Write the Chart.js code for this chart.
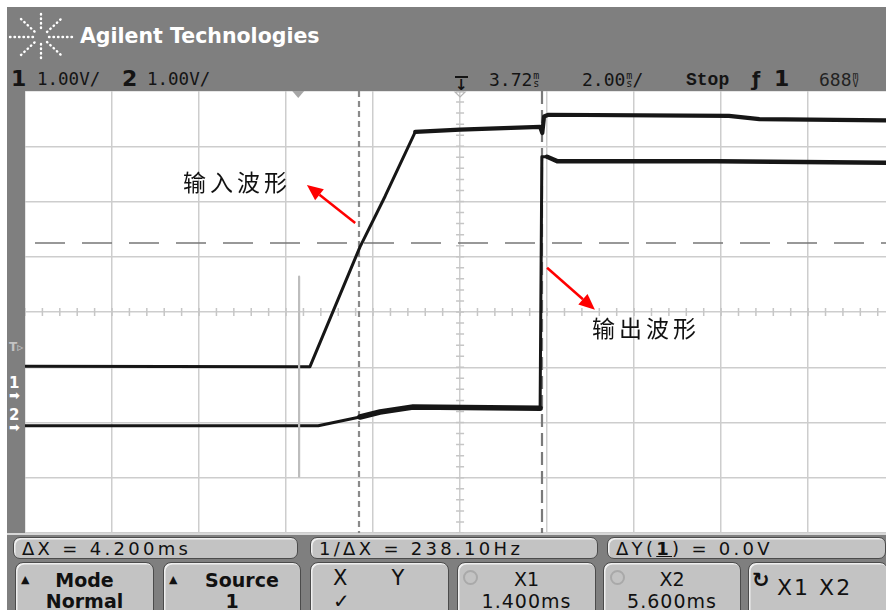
<!DOCTYPE html>
<html>
<head>
<meta charset="utf-8">
<title>Agilent scope capture</title>
<script src="https://cdn.jsdelivr.net/npm/chart.js@4.4.1/dist/chart.umd.min.js"></script>
<style>
  body { margin: 0; background: #fff; }
  #scope { position: relative; width: 886px; height: 610px; overflow: hidden; background: #fff; font-family: "DejaVu Sans", sans-serif; }
  .panel { position: absolute; background: #7f7f7f; }
  #plot { position: absolute; left: 25px; top: 91px; width: 861px; height: 442px; }
  .t { position: absolute; white-space: nowrap; line-height: 1; color: #141414; }
  .mono { font-family: "DejaVu Sans Mono", monospace; }
  .stk { display: inline-block; font-size: 10px; line-height: 8px; text-align: center; vertical-align: top; margin-left: 1px; margin-top: 1px; }
  .box { position: absolute; background: #c3c3c3; border: 1.5px solid #4b4b4b; border-radius: 7px;
         box-shadow: inset 1.5px 1.5px 0 #efefef; box-sizing: border-box; display: flex; align-items: center;
         font-size: 18px; letter-spacing: 3.3px; color: #111; padding-left: 8px; white-space: nowrap; }
  .key { position: absolute; top: 562px; height: 56px; background: #c3c3c3; border: 1.5px solid #4b4b4b; border-radius: 8px;
         box-shadow: inset 1.5px 1.5px 0 #efefef; box-sizing: border-box; color: #111; }
  .key .l { position: absolute; left: 0; right: 0; text-align: center; line-height: 1; white-space: nowrap; }
  .ring { position: absolute; width: 11px; height: 11px; border: 2px solid #a9a9a9; border-radius: 50%; top: 7px; }
</style>
</head>
<body>
<div id="scope">
  <div class="panel" style="left:7px;top:7px;width:879px;height:84px;"></div>
  <div class="panel" style="left:7px;top:91px;width:18px;height:442px;"></div>
  <div class="panel" style="left:7px;top:533px;width:879px;height:77px;border-top:2px solid #d8d8d8;box-sizing:border-box;"></div>

  <svg style="position:absolute;left:8px;top:12px;" width="68" height="50" viewBox="0 0 68 50">
    <g stroke="#fff" stroke-width="2.4" stroke-linecap="round" stroke-dasharray="0.5 4" fill="none">
      <line x1="2" y1="25" x2="25" y2="25"/><line x1="41" y1="25" x2="64" y2="25"/>
      <line x1="33" y1="2" x2="33" y2="18"/><line x1="33" y1="32" x2="33" y2="48"/>
      <line x1="13" y1="7" x2="27" y2="20"/><line x1="39" y1="30" x2="53" y2="43"/>
      <line x1="13" y1="43" x2="27" y2="30"/><line x1="39" y1="20" x2="53" y2="7"/>
    </g>
  </svg>
  <div class="t" style="left:80px;top:26px;font-size:20.5px;font-weight:bold;color:#fff;">Agilent Technologies</div>

  <div class="t" style="left:11px;top:68px;font-size:22px;font-weight:bold;">1</div>
  <div class="t mono" style="left:37px;top:71px;font-size:17.5px;">1.00V/</div>
  <div class="t" style="left:122px;top:68px;font-size:22px;font-weight:bold;">2</div>
  <div class="t mono" style="left:147px;top:71px;font-size:17.5px;">1.00V/</div>
  <div class="t" style="left:455px;top:76px;font-size:15px;font-weight:bold;border-top:2px solid #141414;">&#x2193;</div>
  <div class="t mono" style="left:489px;top:71px;font-size:18px;">3.72<span class="stk">m<br>s</span></div>
  <div class="t mono" style="left:582px;top:71px;font-size:18px;">2.00<span class="stk">m<br>s</span>/</div>
  <div class="t" style="left:686px;top:71px;font-size:18px;font-weight:bold;font-family:'Liberation Mono',monospace;">Stop</div>
  <div class="t" style="left:752px;top:70px;font-size:19px;font-weight:bold;">&#x0192;</div>
  <div class="t" style="left:774px;top:68px;font-size:22px;font-weight:bold;">1</div>
  <div class="t mono" style="left:819px;top:71px;font-size:18px;color:#222;">688<span class="stk">m<br>V</span></div>

  <div class="t" style="left:9px;top:341px;font-size:12px;font-weight:bold;color:#c4c4c4;">T&#x25B9;</div>
  <div class="t" style="left:9px;top:376px;font-size:15px;font-weight:bold;color:#fff;">1</div>
  <div class="t" style="left:9px;top:389px;font-size:13px;font-weight:bold;color:#fff;">&#x27A1;</div>
  <div class="t" style="left:9px;top:408px;font-size:15px;font-weight:bold;color:#fff;">2</div>
  <div class="t" style="left:9px;top:421px;font-size:13px;font-weight:bold;color:#fff;">&#x27A1;</div>

  <div id="plot"><canvas id="scopeChart" width="861" height="442"></canvas></div>

  <div class="box" style="left:13px;top:537px;width:285px;height:22px;">&#x0394;X = 4.200ms</div>
  <div class="box" style="left:310px;top:537px;width:288px;height:22px;">1/&#x0394;X = 238.10Hz</div>
  <div class="box" style="left:607px;top:537px;width:279px;height:22px;">&#x0394;Y(<b style="text-decoration:underline;">1</b>) = 0.0V</div>

  <div class="key" style="left:15px;width:139px;">
    <div class="l" style="top:8px;font-size:19px;font-weight:bold;"><span style="position:absolute;left:5px;top:3px;font-size:11px;">&#x25B2;</span>Mode</div>
    <div class="l" style="top:29px;font-size:19px;font-weight:bold;">Normal</div>
  </div>
  <div class="key" style="left:163px;width:138px;">
    <div class="l" style="top:8px;font-size:19px;font-weight:bold;padding-left:20px;box-sizing:border-box;"><span style="position:absolute;left:5px;top:3px;font-size:11px;">&#x25B2;</span>Source</div>
    <div class="l" style="top:29px;font-size:19px;font-weight:bold;">1</div>
  </div>
  <div class="key" style="left:310px;width:139px;">
    <div class="l" style="top:5px;font-size:21px;text-align:left;padding-left:22px;">X<span style="margin-left:44px;">Y</span></div>
    <div class="l" style="top:28px;font-size:20px;text-align:left;padding-left:22px;">&#x2713;</div>
  </div>
  <div class="key" style="left:457px;width:139px;">
    <div class="ring" style="left:5px;"></div>
    <div class="l" style="top:7px;font-size:19px;">X1</div>
    <div class="l" style="top:29px;font-size:19px;letter-spacing:1px;">1.400ms</div>
  </div>
  <div class="key" style="left:603px;width:138px;">
    <div class="ring" style="left:6px;"></div>
    <div class="l" style="top:7px;font-size:19px;">X2</div>
    <div class="l" style="top:29px;font-size:19px;letter-spacing:1px;">5.600ms</div>
  </div>
  <div class="key" style="left:748px;width:140px;">
    <div class="l" style="top:7px;left:3px;text-align:left;font-size:21px;font-weight:bold;">&#x21BB;</div>
    <div class="l" style="top:14px;left:28px;text-align:left;font-size:22px;letter-spacing:2px;">X1 X2</div>
  </div>
</div>

<script>
// Horizontal: 2 ms/div, 3.72 ms at screen centre. Vertical: 1 V/div on both channels.
const centerTime = 3.72;
const msPerDiv = 2.0;
const visibleMax = 13.51;              // right edge of the photo cuts the last division
const ch1Range = [-2.5, 5.5];          // ch1 ground marker sits 1.5 div below centre
const ch2Range = [-1.92, 6.08];        // ch2 ground marker sits 2.08 div below centre

// Channel 1: input waveform (V)
const ch1Time  = [-6.28, 0.27, 1.42, 2.00, 2.69, 3.72, 5.56, 5.61, 5.65, 5.75, 9.90, 10.60, 13.51];
const ch1Volts = [0.52, 0.51, 2.68, 3.60, 4.76, 4.80, 4.85, 4.74, 5.04, 5.07, 5.05, 4.99, 4.97];

// Channel 2: output waveform (V)
const ch2Time  = [-6.28, 0.46, 1.42, 1.88, 2.64, 5.56, 5.60, 5.72, 5.95, 9.63, 13.51];
const ch2Volts = [0.02, 0.02, 0.18, 0.27, 0.36, 0.34, 4.89, 4.89, 4.81, 4.81, 4.78];

// stray vertical glitch near the trigger point (ch1 volts)
const glitchTime  = [0.02, 0.02];
const glitchVolts = [2.14, -1.48];

// cursors as shown in the readout
const cursorX = [1.4, 5.6];
const cursorY = 2.75;

const notes = [
  { text: '输入波形', t: -2.65, v: 3.84, arrowFrom: [1.31, 3.11], arrowTo: [0.20, 3.80] },
  { text: '输出波形', t: 6.75, v: 1.21, arrowFrom: [5.72, 2.30], arrowTo: [6.82, 1.54] }
];

const pts = (ts, vs) => ts.map((t, i) => ({ x: t, y: vs[i] }));
const xMin = centerTime - 5 * msPerDiv;

const scopeOverlay = {
  id: 'scopeOverlay',
  beforeDatasetsDraw(chart) {
    const { ctx, chartArea: a, scales: { x, grid, y1 } } = chart;
    ctx.save();
    // minor ticks along the centre axes
    const cx = x.getPixelForValue(centerTime), cy = grid.getPixelForValue(0);
    ctx.strokeStyle = '#c6c6c6';
    ctx.lineWidth = 1.5;
    ctx.beginPath();
    for (let k = -25; k <= 25; k++) {
      const px = x.getPixelForValue(centerTime + k * msPerDiv / 5);
      ctx.moveTo(px, cy - 4); ctx.lineTo(px, cy + 4);
    }
    for (let k = -20; k <= 20; k++) {
      const py = grid.getPixelForValue(k / 5);
      ctx.moveTo(cx - 4, py); ctx.lineTo(cx + 4, py);
    }
    ctx.stroke();

    // Y cursor (both Y1 and Y2 at same level)
    const yc = y1.getPixelForValue(cursorY);
    ctx.strokeStyle = '#777';
    ctx.lineWidth = 1.5;
    ctx.setLineDash([30, 17]);
    ctx.lineDashOffset = -10;
    ctx.beginPath(); ctx.moveTo(a.left, yc); ctx.lineTo(a.right, yc); ctx.stroke();

    // X cursors
    ctx.lineDashOffset = 0;
    ctx.lineWidth = 2.2;
    ctx.strokeStyle = '#8a8a8a';
    ctx.setLineDash([6, 4]);
    let px = Math.round(x.getPixelForValue(cursorX[0]));
    ctx.beginPath(); ctx.moveTo(px, a.top); ctx.lineTo(px, a.bottom); ctx.stroke();
    ctx.strokeStyle = '#7a7a7a';
    ctx.setLineDash([13, 6]);
    px = Math.round(x.getPixelForValue(cursorX[1]));
    ctx.beginPath(); ctx.moveTo(px, a.top); ctx.lineTo(px, a.bottom); ctx.stroke();
    ctx.setLineDash([]);

    // trigger point and time reference markers on the top edge
    const tp = x.getPixelForValue(0);
    ctx.fillStyle = '#a6a6a6';
    ctx.beginPath(); ctx.moveTo(tp - 6, a.top); ctx.lineTo(tp + 6, a.top); ctx.lineTo(tp, a.top + 7); ctx.closePath(); ctx.fill();
    ctx.strokeStyle = '#b5b5b5';
    ctx.lineWidth = 1.2;
    ctx.beginPath(); ctx.moveTo(cx - 5, a.top + 1); ctx.lineTo(cx + 5, a.top + 1); ctx.lineTo(cx, a.top + 6); ctx.closePath(); ctx.stroke();
    ctx.restore();
  },
  afterDatasetsDraw(chart) {
    const { ctx, scales: { x, y1 } } = chart;
    ctx.save();
    notes.forEach(n => {
      // label
      ctx.fillStyle = '#111';
      ctx.font = '23px "Noto Sans CJK SC"';
      ctx.textBaseline = 'middle';
      const lx = x.getPixelForValue(n.t), ly = y1.getPixelForValue(n.v);
      [...n.text].forEach((ch, i) => ctx.fillText(ch, lx + i * 27, ly));
      // arrow
      const x0 = x.getPixelForValue(n.arrowFrom[0]), y0 = y1.getPixelForValue(n.arrowFrom[1]);
      const x1 = x.getPixelForValue(n.arrowTo[0]), y1p = y1.getPixelForValue(n.arrowTo[1]);
      const ang = Math.atan2(y1p - y0, x1 - x0);
      const hl = 16, hw = 7;
      const bx = x1 - hl * Math.cos(ang), by = y1p - hl * Math.sin(ang);
      ctx.strokeStyle = '#ff0000';
      ctx.fillStyle = '#ff0000';
      ctx.lineWidth = 2.5;
      ctx.beginPath(); ctx.moveTo(x0, y0); ctx.lineTo(bx, by); ctx.stroke();
      ctx.beginPath();
      ctx.moveTo(x1, y1p);
      ctx.lineTo(bx + hw * Math.sin(ang), by - hw * Math.cos(ang));
      ctx.lineTo(bx - hw * Math.sin(ang), by + hw * Math.cos(ang));
      ctx.closePath(); ctx.fill();
    });
    ctx.restore();
  }
};

new Chart(document.getElementById('scopeChart'), {
  type: 'line',
  data: {
    datasets: [
      {
        label: 'glitch',
        data: pts(glitchTime, glitchVolts),
        yAxisID: 'y1',
        borderColor: '#bdbdbd',
        borderWidth: 2.2
      },
      {
        label: '输入波形',
        data: pts(ch1Time, ch1Volts),
        yAxisID: 'y1',
        borderColor: '#161616',
        borderWidth: 3,
        segment: { borderWidth: c => c.p0.parsed.x >= 2.6 ? 4.2 : 3 }
      },
      {
        label: '输出波形',
        data: pts(ch2Time, ch2Volts),
        yAxisID: 'y2',
        borderColor: '#161616',
        borderWidth: 3,
        segment: { borderWidth: c => c.p0.parsed.x >= 5.65 ? 4.5 : (c.p0.parsed.x >= 1.0 && c.p0.parsed.x < 5.56 ? 5.5 : 3) }
      }
    ]
  },
  options: {
    responsive: false,
    animation: false,
    layout: { padding: 0 },
    elements: { point: { radius: 0 }, line: { tension: 0, borderCapStyle: 'round', borderJoinStyle: 'round' } },
    plugins: { legend: { display: false }, tooltip: { enabled: false } },
    scales: {
      x: {
        type: 'linear', min: xMin, max: visibleMax,
        afterBuildTicks: s => { s.ticks = []; for (let v = xMin; v <= visibleMax + 1e-9; v += msPerDiv) s.ticks.push({ value: v }); },
        ticks: { display: false },
        grid: { color: '#cdcdcd', lineWidth: 1.5, drawTicks: false },
        border: { display: false }
      },
      grid: {
        position: 'left', min: -4, max: 4,
        afterBuildTicks: s => { s.ticks = []; for (let v = -4; v <= 4; v++) s.ticks.push({ value: v }); },
        ticks: { display: false },
        grid: { color: '#cdcdcd', lineWidth: 1.5, drawTicks: false },
        border: { display: false }
      },
      y1: { display: false, min: ch1Range[0], max: ch1Range[1] },
      y2: { display: false, min: ch2Range[0], max: ch2Range[1] }
    }
  },
  plugins: [scopeOverlay]
});
</script>
</body>
</html>
